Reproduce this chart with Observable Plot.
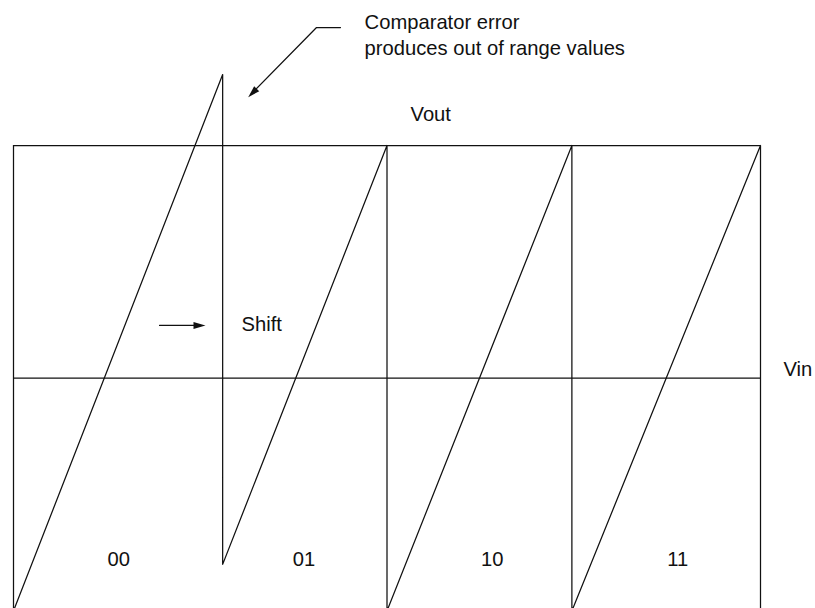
<!DOCTYPE html>
<html>
<head>
<meta charset="utf-8">
<script src="https://cdn.jsdelivr.net/npm/d3@7"></script>
<script src="https://cdn.jsdelivr.net/npm/@observablehq/plot@0.6"></script>
<style>
  html, body { margin: 0; padding: 0; background: #fff; }
  #chart { width: 815px; height: 608px; overflow: hidden; }
</style>
</head>
<body>
<div id="chart"></div>
<script>
// ---- data (Vin in segment units 0..4, Vout normalized -1..1) ----
const vinBreaks = [0, 1.12, 2.0, 2.99, 4];           // code region boundaries
const codes = ["00", "01", "10", "11"];
const codeLabelVin = [0.564, 1.555, 2.563, 3.557];
const codeLabelVout = -0.809;

// residue (sawtooth) transfer curve, with the comparator-error overshoot
const sawVin  = [0, 1.12, 1.12, 2.0, 2.0, 2.99, 2.99, 4, 4];
const sawVout = [-1, 1.305, -0.80, 1, -1, 1, -1, 1, -1];

// annotation texts
const noteLines = ["Comparator error", "produces out of range values"];
const noteVin = [1.88, 1.88];
const noteVout = [1.4985, 1.391];
const axisNames = ["Vout", "Vin"];
const axisNameVin = [2.126, 4.123];
const axisNameVout = [1.104, 0.0086];
const shiftText = ["Shift"];
const shiftVin = [1.221];
const shiftVout = [0.2007];

// arrows
const leaderVin  = [1.751, 1.6226, 1.272];
const leaderVout = [1.507, 1.507, 1.2205];
const leaderTip = [{x: 1.2568, y: 1.2076, rot: 225}];
const shiftArrowVin = [0.782, 1.0];
const shiftArrowVout = [0.2265, 0.2265];
const shiftTip = [{x: 1.028, y: 0.2265, rot: 90}];

// ---- build ----
const saw = sawVin.map((x, i) => ({x, y: sawVout[i]}));
const leader = leaderVin.map((x, i) => ({x, y: leaderVout[i]}));
const shiftLine = shiftArrowVin.map((x, i) => ({x, y: shiftArrowVout[i]}));
const labels = codes.map((t, i) => ({t, x: codeLabelVin[i], y: codeLabelVout}));
const notes = noteLines.map((t, i) => ({t, x: noteVin[i], y: noteVout[i]}));
const names = axisNames.map((t, i) => ({t, x: axisNameVin[i], y: axisNameVout[i]}));
const shift = shiftText.map((t, i) => ({t, x: shiftVin[i], y: shiftVout[i]}));

const head = {
  draw(ctx) {
    ctx.moveTo(0, 0);
    ctx.lineTo(-3.6, 12);
    ctx.lineTo(3.6, 12);
    ctx.closePath();
  }
};

const ink = "#111";
const sw = 1.25;
const fs = 20.2;

const chart = Plot.plot({
  width: 815,
  height: 608,
  margin: 0,
  style: {fontFamily: "'Liberation Sans', Arial, Helvetica, sans-serif", background: "#fff", color: ink},
  x: {domain: [0, 4], range: [13, 760], axis: null},
  y: {domain: [-1, 1], range: [610.4, 145], axis: null},
  marks: [
    // frame: left edge, top edge, bottom edge, zero axis
    Plot.ruleX([vinBreaks[0]], {y1: -1, y2: 1, stroke: ink, strokeWidth: sw}),
    Plot.ruleY([1, -1, 0], {x1: vinBreaks[0], x2: vinBreaks[vinBreaks.length - 1], stroke: ink, strokeWidth: sw}),
    // sawtooth residue
    Plot.line(saw, {x: "x", y: "y", stroke: ink, strokeWidth: sw, curve: "linear"}),
    // code labels
    Plot.text(labels, {x: "x", y: "y", text: "t", textAnchor: "middle", lineAnchor: "bottom", fontSize: fs, fill: ink}),
    // axis names
    Plot.text(names, {x: "x", y: "y", text: "t", textAnchor: "start", lineAnchor: "bottom", fontSize: fs, fill: ink}),
    // note
    Plot.text(notes, {x: "x", y: "y", text: "t", textAnchor: "start", lineAnchor: "bottom", fontSize: fs, fill: ink}),
    Plot.line(leader, {x: "x", y: "y", stroke: ink, strokeWidth: sw}),
    Plot.dot(leaderTip, {x: "x", y: "y", rotate: "rot", symbol: head, fill: ink, stroke: "none"}),
    // shift
    Plot.text(shift, {x: "x", y: "y", text: "t", textAnchor: "start", lineAnchor: "bottom", fontSize: fs, fill: ink}),
    Plot.line(shiftLine, {x: "x", y: "y", stroke: ink, strokeWidth: sw}),
    Plot.dot(shiftTip, {x: "x", y: "y", rotate: "rot", symbol: head, fill: ink, stroke: "none"})
  ]
});
document.getElementById("chart").appendChild(chart);
</script>
</body>
</html>
